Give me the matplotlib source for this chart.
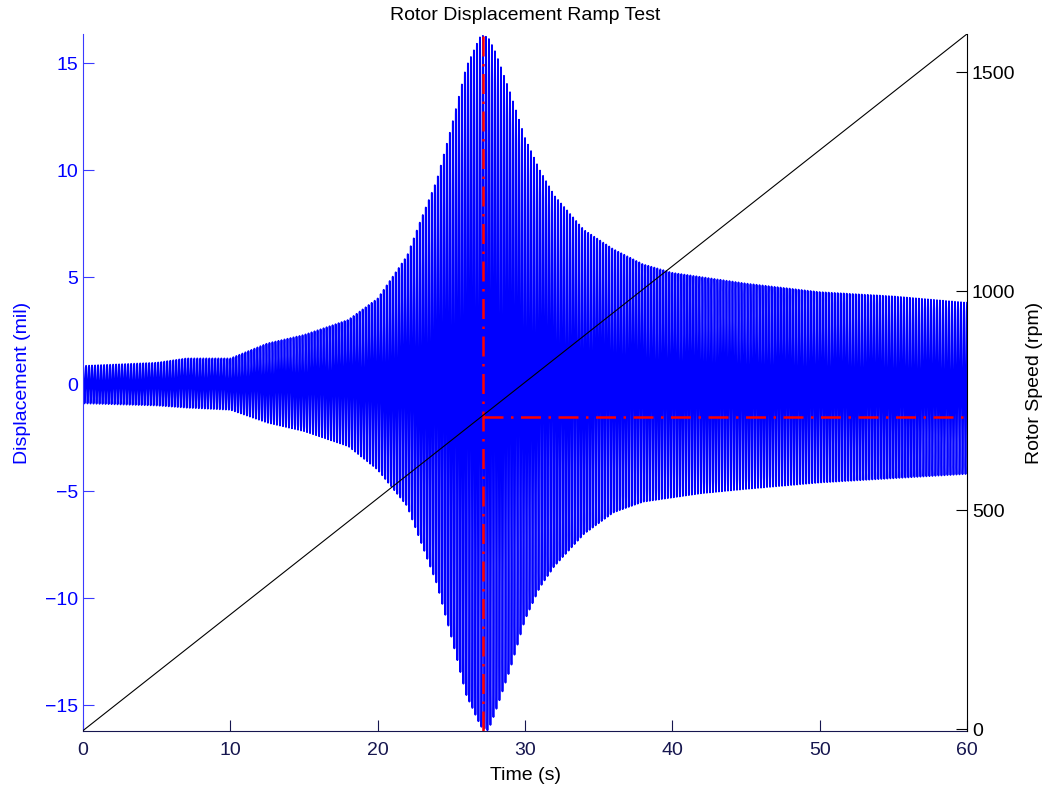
import numpy as np
import matplotlib
matplotlib.use("Agg")
import matplotlib.pyplot as plt

plt.rcParams['font.family'] = ['Liberation Sans', 'DejaVu Sans']

# envelope of the displacement probe signal (mil)
env_time = [0, 5, 7, 10, 12.5, 15, 18, 20, 22, 23, 24, 25, 26, 27, 27.5, 28, 29,
            30, 31, 32, 34, 36, 38, 40, 42, 45, 50, 55, 60]
env_upper = [0.85, 1.0, 1.2, 1.2, 1.9, 2.3, 3.0, 4.0, 6.0, 7.8, 9.5, 12.0, 14.8,
             16.3, 16.2, 15.5, 13.6, 11.5, 10.0, 8.8, 7.2, 6.3, 5.6, 5.2, 5.0,
             4.7, 4.3, 4.1, 3.8]
env_lower = [-0.9, -1.0, -1.1, -1.2, -1.8, -2.2, -2.9, -4.0, -5.7, -7.5, -9.3,
             -11.8, -14.5, -16.0, -16.2, -15.3, -13.3, -11.0, -9.5, -8.5, -7.0,
             -6.0, -5.5, -5.3, -5.1, -4.9, -4.6, -4.4, -4.2]

# rotor speed ramp (rpm)
speed_time = [0, 60]
speed_rpm = [-3, 1587]

# first critical speed marker
peak_time = 27.15
peak_rpm = 712

# oscillation drawn inside the envelope
carrier_hz = 4.9
fs = 400
t = np.arange(0, 60 + 1 / fs, 1 / fs)
up = np.interp(t, env_time, env_upper)
lo = np.interp(t, env_time, env_lower)
mid = 0.5 * (up + lo)
amp = 0.5 * (up - lo)
disp = mid + amp * np.cos(2 * np.pi * carrier_hz * t)

fig = plt.figure(figsize=(10.47, 7.88), dpi=100)
ax1 = fig.add_axes([0.0793, 0.0723, 0.8443, 0.8846])
ax2 = ax1.twinx()

navy = '#16164f'
fs_txt = 14
ax1.plot(t, disp, color='blue', lw=1.3)
ax1.plot([peak_time, peak_time], [-16.21, 16.36], color='red', ls='-.', lw=1.8,
         dashes=(8, 3, 1, 3))
ax1.set_xlim(0, 60)
ax1.set_ylim(-16.21, 16.36)
ax1.set_yticks([-15, -10, -5, 0, 5, 10, 15])
ax1.set_xticks(range(0, 61, 10))
ax1.set_ylabel('Displacement (mil)', color='blue', fontsize=fs_txt, labelpad=10)
ax1.set_xlabel('Time (s)', fontsize=fs_txt, labelpad=6)
ax1.set_title('Rotor Displacement Ramp Test', fontsize=fs_txt, pad=10)

ax2.plot(speed_time, speed_rpm, color='black', lw=0.8)
ax2.plot([peak_time, 60], [peak_rpm, peak_rpm], color='red', ls='-.', lw=1.8,
         dashes=(8, 3, 1, 3))
ax2.set_ylim(-4, 1587)
ax2.set_yticks([0, 500, 1000, 1500])
ax2.set_ylabel('Rotor Speed (rpm)', fontsize=fs_txt, labelpad=8)

for ax in (ax1, ax2):
    ax.spines['top'].set_visible(False)
ax1.spines['right'].set_visible(False)
ax2.spines['left'].set_visible(False)
ax2.spines['bottom'].set_visible(False)
ax1.spines['left'].set_color('#3a3aff')
ax1.spines['bottom'].set_color(navy)
ax1.tick_params(axis='y', colors='blue', direction='in', length=8, labelsize=fs_txt)
ax1.tick_params(axis='y', color='#3a3aff')
ax1.tick_params(axis='x', colors=navy, direction='in', length=8, labelsize=fs_txt,
                pad=8)
ax2.tick_params(axis='y', colors='black', direction='in', length=8, labelsize=fs_txt)

fig.savefig('out.png', dpi=100)
